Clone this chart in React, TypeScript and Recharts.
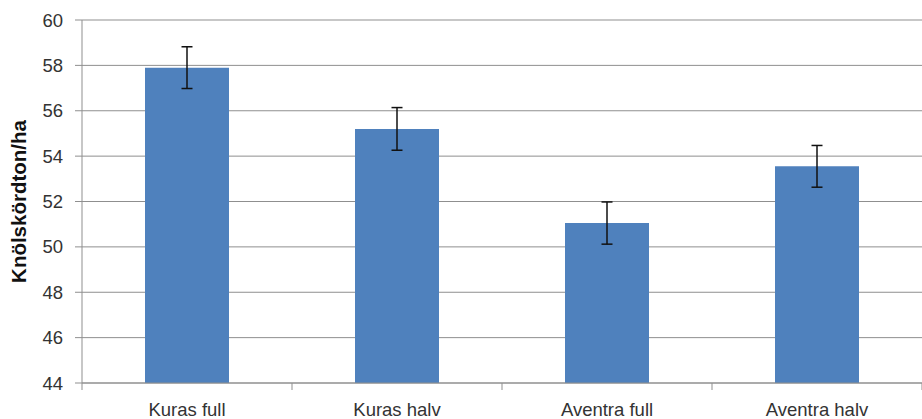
import React from "react";
import {
  BarChart,
  Bar,
  XAxis,
  YAxis,
  CartesianGrid,
  ErrorBar,
  Label,
} from "recharts";

const categories = ["Kuras full", "Kuras halv", "Aventra full", "Aventra halv"];
const yields = [57.9, 55.2, 51.05, 53.55];
const errors = [0.92, 0.94, 0.93, 0.92];
const yTicks = [44, 46, 48, 50, 52, 54, 56, 58, 60];

const W = 922;
const H = 419;
const Y_AXIS_W = 82;
const HALF_BAND = (W - Y_AXIS_W) / categories.length / 2;

const FONT = "'Liberation Sans', Arial, sans-serif";
const TEXT = "#333";
const GRID = "#8f8f8f";

const data = categories.map((name, i) => ({
  name,
  value: yields[i],
  err: errors[i],
}));

// category label plus the small tick mark at the band edge (Excel style)
function CategoryTick(props: any) {
  const { x, y, payload, index } = props;
  return (
    <g>
      {index === 0 && (
        <line x1={x - HALF_BAND} y1={y} x2={x - HALF_BAND} y2={y + 7} stroke={GRID} />
      )}
      <line x1={x + HALF_BAND} y1={y} x2={x + HALF_BAND} y2={y + 7} stroke={GRID} />
      <text
        x={x}
        y={y + 28}
        textAnchor="middle"
        dominantBaseline="middle"
        fill={TEXT}
        fontSize={18.5}
        fontFamily={FONT}
      >
        {payload.value}
      </text>
    </g>
  );
}

export default function App() {
  return (
    <div style={{ width: W, height: H, background: "#fff" }}>
      <style>{"body{margin:0}"}</style>
      <BarChart
        width={W}
        height={H}
        data={data}
        margin={{ top: 20, right: 0, left: 0, bottom: 0 }}
        barCategoryGap="30%"
      >
        <CartesianGrid vertical={false} stroke={GRID} />
        <XAxis
          dataKey="name"
          height={36}
          axisLine={{ stroke: GRID }}
          tickLine={false}
          tickSize={0}
          tickMargin={0}
          tick={<CategoryTick />}
          interval={0}
        />
        <YAxis
          width={Y_AXIS_W}
          domain={[44, 60]}
          ticks={yTicks}
          allowDataOverflow
          axisLine={{ stroke: GRID }}
          tickLine={{ stroke: GRID }}
          tickSize={7}
          tickMargin={12}
          tick={{ fill: TEXT, fontSize: 18.5, fontFamily: FONT }}
        >
          <Label
            content={({ viewBox }: any) => {
              const cx = viewBox.x + 21;
              const cy = viewBox.y + viewBox.height / 2;
              return (
                <text
                  x={cx}
                  y={cy}
                  transform={`rotate(-90 ${cx} ${cy})`}
                  textAnchor="middle"
                  dominantBaseline="middle"
                  fill="#111"
                  fontSize={20.5}
                  fontWeight="bold"
                  fontFamily={FONT}
                >
                  Knölskördton/ha
                </text>
              );
            }}
          />
        </YAxis>
        <Bar dataKey="value" fill="#4f81bd" isAnimationActive={false}>
          <ErrorBar
            dataKey="err"
            width={5.5}
            stroke="#111"
            strokeWidth={1.5}
            isAnimationActive={false}
          />
        </Bar>
      </BarChart>
    </div>
  );
}
